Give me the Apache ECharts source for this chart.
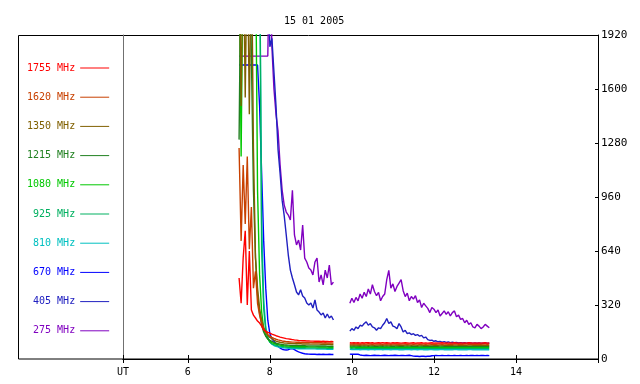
<!DOCTYPE html>
<html>
<head>
<meta charset="utf-8">
<title>15 01 2005</title>
<script src="https://cdn.jsdelivr.net/npm/echarts@6.0.0/dist/echarts.min.js"></script>
<style>
  html, body { margin: 0; padding: 0; background: #fff; }
  #chartmain { width: 640px; height: 384px; }
</style>
</head>
<body>
<div id="chartmain"></div>
<script>
// 时间 (UT, 小时) - 第一段 / 第二段
var times1 = [7.25, 7.3, 7.35, 7.4, 7.45, 7.5, 7.55, 7.6, 7.65, 7.7, 7.75, 7.8, 7.85, 7.9, 7.95,
  8, 8.05, 8.1, 8.15, 8.2, 8.25, 8.3, 8.35, 8.4, 8.45, 8.5, 8.55, 8.6, 8.65, 8.7, 8.75, 8.8, 8.85, 8.9, 8.95,
  9, 9.05, 9.1, 9.15, 9.2, 9.25, 9.3, 9.35, 9.4, 9.45, 9.5, 9.55];
var times2 = [9.95,
  10, 10.05, 10.1, 10.15, 10.2, 10.25, 10.3, 10.35, 10.4, 10.45, 10.5, 10.55, 10.6, 10.65, 10.7, 10.75, 10.8, 10.85, 10.9, 10.95,
  11, 11.05, 11.1, 11.15, 11.2, 11.25, 11.3, 11.35, 11.4, 11.45, 11.5, 11.55, 11.6, 11.65, 11.7, 11.75, 11.8, 11.85, 11.9, 11.95,
  12, 12.05, 12.1, 12.15, 12.2, 12.25, 12.3, 12.35, 12.4, 12.45, 12.5, 12.55, 12.6, 12.65, 12.7, 12.75, 12.8, 12.85, 12.9, 12.95,
  13, 13.05, 13.1, 13.15, 13.2, 13.25, 13.3, 13.35];

// 频率名称和颜色
var freqNames = ['1755 MHz', '1620 MHz', '1350 MHz', '1215 MHz', '1080 MHz', '925 MHz', '810 MHz', '670 MHz', '405 MHz', '275 MHz'];
var freqColors = ['#ff0000', '#c84000', '#806000', '#208020', '#00c800', '#00b060', '#00c0c0', '#0000ff', '#2020c0', '#8000c0'];

// y轴刻度
var yTicks = [0, 320, 640, 960, 1280, 1600, 1920];

// 各频率流量 (第一段)  2500 = 超出上限
var f1755a = [480, 330, 600, 760, 320, 640, 290, 260, 243, 225, 213, 195, 172, 165, 158, 154, 148, 143, 138, 134, 130, 127, 124, 121, 119, 117, 115, 113, 112, 110, 109, 108, 108, 107, 107, 106, 106, 105, 106, 105, 104, 105, 104, 104, 103, 104, 103];
var f1620a = [1250, 700, 1150, 800, 1200, 650, 900, 420, 520, 330, 260, 215, 180, 160, 145, 135, 128, 122, 117, 113, 110, 107, 105, 103, 102, 101, 100, 100, 99, 99, 98, 98, 98, 97, 97, 97, 96, 97, 96, 96, 96, 95, 96, 95, 95, 95, 94];
var f1350a = [2500, 1500, 2500, 1550, 2500, 1450, 2500, 1250, 600, 420, 300, 230, 185, 160, 140, 128, 120, 112, 106, 102, 99, 97, 95, 94, 93, 92, 91, 91, 90, 90, 90, 89, 89, 89, 89, 88, 88, 88, 88, 88, 87, 87, 87, 87, 87, 86, 86];
var f1215a = [1300, 2500, 2500, 2500, 2500, 2500, 1800, 1000, 600, 380, 270, 200, 160, 135, 120, 110, 104, 98, 94, 90, 88, 86, 84, 83, 82, 81, 80, 80, 80, 79, 79, 79, 79, 78, 78, 78, 78, 78, 77, 77, 77, 77, 77, 76, 76, 76, 76];
var f1080a = [2500, 1200, 2500, 2500, 2500, 2500, 2500, 2500, 2500, 1000, 500, 280, 180, 140, 118, 105, 97, 92, 88, 85, 82, 80, 78, 77, 76, 75, 75, 74, 74, 74, 73, 73, 73, 73, 72, 72, 72, 72, 72, 71, 71, 71, 71, 71, 70, 70, 70];
var f925a = [2500, 2500, 2500, 2500, 2500, 2500, 2500, 2500, 2500, 2500, 2500, 650, 300, 170, 125, 100, 90, 85, 81, 78, 76, 74, 72, 71, 70, 69, 68, 68, 68, 67, 67, 67, 67, 66, 66, 66, 66, 66, 65, 65, 65, 65, 65, 64, 64, 64, 64];
var f810a = [2500, 2500, 2500, 2500, 2500, 2500, 2500, 2500, 2500, 2500, 2500, 800, 350, 190, 130, 100, 88, 80, 75, 72, 70, 68, 66, 65, 64, 63, 62, 62, 62, 61, 61, 61, 61, 60, 60, 60, 60, 60, 59, 59, 59, 59, 59, 58, 58, 58, 58];
var f670a = [1742, 1742, 1742, 1742, 1742, 1742, 1742, 1742, 1742, 1742, 1500, 1100, 700, 420, 230, 150, 120, 105, 90, 75, 65, 58, 55, 53, 55, 60, 62, 55, 48, 42, 38, 34, 31, 30, 29, 28, 28, 28, 27, 28, 27, 28, 27, 27, 28, 27, 27];
var f405a = [null, null, null, null, null, null, null, null, null, null, null, null, null, null, 2500, 1850, 1900, 1700, 1500, 1240, 1100, 940, 850, 735, 616, 527, 480, 440, 397, 380, 410, 373, 361, 332, 320, 332, 302, 350, 290, 278, 261, 272, 243, 267, 243, 255, 231];
var f275a = [1795, 1795, 1795, 1795, 1795, 1795, 1795, 1795, 1795, 1795, 1795, 1795, 1795, 1795, 1795, 2500, 1850, 1600, 1450, 1350, 1150, 1000, 912, 871, 853, 824, 1000, 735, 676, 705, 646, 794, 598, 575, 539, 527, 498, 575, 598, 456, 498, 439, 527, 480, 557, 439, 456];

// 各频率流量 (第二段)
var f1755b = [96, 95, 97, 95, 96, 94, 96, 95, 97, 96, 95, 96, 94, 95, 96, 95, 97, 95, 96, 95, 94, 96, 95, 96, 95, 94, 95, 96, 95, 94, 95, 96, 94, 95, 95, 96, 94, 95, 94, 95, 96, 94, 95, 94, 95, 96, 94, 95, 94, 95, 94, 96, 95, 94, 95, 94, 95, 94, 96, 95, 94, 95, 94, 95, 94, 95, 96, 94, 95];
var f1620b = [89, 88, 90, 88, 89, 87, 88, 89, 88, 90, 88, 87, 89, 88, 88, 89, 87, 88, 89, 88, 87, 88, 89, 88, 87, 88, 88, 89, 87, 88, 88, 87, 89, 88, 87, 88, 88, 87, 88, 89, 87, 88, 87, 88, 88, 87, 88, 89, 87, 88, 87, 88, 88, 87, 88, 87, 89, 88, 87, 88, 87, 88, 87, 88, 87, 88, 88, 87, 88];
var f1350b = [83, 82, 84, 82, 83, 81, 82, 83, 82, 81, 82, 83, 81, 82, 82, 83, 81, 82, 83, 82, 81, 82, 82, 83, 81, 82, 81, 82, 83, 82, 81, 82, 82, 81, 82, 83, 81, 82, 81, 82, 82, 81, 82, 81, 82, 83, 81, 82, 81, 82, 81, 82, 82, 81, 82, 81, 82, 81, 82, 82, 81, 82, 81, 82, 81, 82, 81, 82, 81];
var f1215b = [77, 76, 78, 76, 77, 75, 76, 77, 76, 75, 76, 77, 75, 76, 76, 77, 75, 76, 77, 76, 75, 76, 76, 77, 75, 76, 75, 76, 77, 76, 75, 76, 76, 75, 76, 77, 75, 76, 75, 76, 76, 75, 76, 75, 76, 77, 75, 76, 75, 76, 75, 76, 76, 75, 76, 75, 76, 75, 76, 76, 75, 76, 75, 76, 75, 76, 75, 76, 75];
var f1080b = [71, 70, 72, 70, 71, 69, 70, 71, 70, 69, 70, 71, 69, 70, 70, 71, 69, 70, 71, 70, 69, 70, 70, 71, 69, 70, 69, 70, 71, 70, 69, 70, 70, 69, 70, 71, 69, 70, 69, 70, 70, 69, 70, 69, 70, 71, 69, 70, 69, 70, 69, 70, 70, 69, 70, 69, 70, 69, 70, 70, 69, 70, 69, 70, 69, 70, 69, 70, 69];
var f925b = [65, 64, 66, 64, 65, 63, 64, 65, 64, 63, 64, 65, 63, 64, 64, 65, 63, 64, 65, 64, 63, 64, 64, 65, 63, 64, 63, 64, 65, 64, 63, 64, 64, 63, 64, 65, 63, 64, 63, 64, 64, 63, 64, 63, 64, 65, 63, 64, 63, 64, 63, 64, 64, 63, 64, 63, 64, 63, 64, 64, 63, 64, 63, 64, 63, 64, 63, 64, 63];
var f810b = [57, 56, 58, 56, 57, 55, 56, 57, 56, 55, 56, 57, 55, 56, 56, 57, 55, 56, 57, 56, 55, 56, 56, 57, 55, 56, 55, 56, 57, 56, 55, 56, 56, 55, 56, 57, 55, 56, 55, 56, 56, 55, 56, 55, 56, 57, 55, 56, 55, 56, 55, 56, 56, 55, 56, 55, 56, 55, 56, 56, 55, 56, 55, 56, 55, 56, 55, 56, 55];
var f670b = [29, 28, 28, 29, 28, 24, 22, 21, 22, 21, 20, 21, 22, 21, 21, 20, 21, 22, 21, 20, 21, 21, 22, 21, 20, 21, 21, 20, 21, 22, 20, 17, 16, 16, 15, 16, 16, 15, 16, 16, 19, 20, 21, 20, 20, 21, 20, 20, 21, 20, 20, 21, 20, 20, 21, 20, 20, 21, 20, 21, 21, 20, 21, 20, 21, 21, 20, 21, 20];
var f405b = [165, 180, 170, 190, 180, 200, 195, 210, 220, 200, 210, 190, 185, 170, 185, 180, 200, 215, 240, 210, 220, 195, 190, 180, 210, 190, 160, 170, 150, 155, 145, 150, 140, 145, 135, 140, 125, 130, 115, 110, 112, 105, 108, 102, 104, 100, 103, 98, 101, 97, 99, 96, 98, 95, 97, 95, 96, 94, 96, 95, 94, 95, 93, 95, 94, 93, 95, 94, 93];
var f275b = [330, 360, 335, 365, 345, 385, 360, 395, 370, 415, 385, 440, 400, 375, 395, 345, 370, 385, 470, 525, 420, 445, 400, 430, 450, 470, 405, 370, 390, 345, 370, 355, 375, 335, 350, 305, 330, 315, 300, 275, 305, 295, 275, 290, 255, 270, 285, 265, 280, 255, 275, 285, 250, 260, 235, 240, 215, 230, 205, 215, 190, 185, 205, 195, 180, 190, 205, 195, 185];

var seg1 = [f1755a, f1620a, f1350a, f1215a, f1080a, f925a, f810a, f670a, f405a, f275a];
var seg2 = [f1755b, f1620b, f1350b, f1215b, f1080b, f925b, f810b, f670b, f405b, f275b];

var fontName = 'DejaVu Sans Mono';

// 把两段数据拼起来, 中间断开
function buildData(a, b) {
  var out = [];
  for (var i = 0; i < times1.length; i++) {
    out.push([times1[i], a[i] == null ? '-' : a[i]]);
  }
  out.push([9.75, '-']);
  for (var j = 0; j < times2.length; j++) {
    out.push([times2[j], b[j] == null ? '-' : b[j]]);
  }
  return out;
}

var series = [];
// 倒序画, 红色在最上面
for (var k = freqNames.length - 1; k >= 0; k--) {
  series.push({
    name: freqNames[k],
    type: 'line',
    xAxisIndex: 0,
    yAxisIndex: 0,
    showSymbol: false,
    symbol: 'none',
    clip: true,
    animation: false,
    color: freqColors[k],
    lineStyle: { width: 1.4, color: freqColors[k] },
    data: buildData(seg1[k], seg2[k])
  });
}

var legendData = freqNames.map(function (n, i) {
  return { name: n, textStyle: { color: freqColors[i] } };
});

var option = {
  animation: false,
  title: {
    text: '15 01 2005',
    left: 279,
    top: 11,
    textStyle: { fontFamily: fontName, fontSize: 10, fontWeight: 'normal', color: '#000' }
  },
  legend: {
    orient: 'vertical',
    left: 27,
    top: 61,
    padding: 0,
    align: 'right',
    icon: 'rect',
    itemWidth: 29,
    itemHeight: 1,
    itemGap: 15.2,
    selectedMode: false,
    formatter: function (name) {
      return name.length < 8 ? ' ' + name : name;
    },
    textStyle: { fontFamily: fontName, fontSize: 10, lineHeight: 14 },
    data: legendData
  },
  grid: { left: 123, right: 42, top: 35, bottom: 25 },
  xAxis: [{
    type: 'value',
    position: 'bottom',
    min: 4.42,
    max: 16,
    axisLine: { lineStyle: { color: '#000', width: 1 } },
    axisTick: { inside: true, length: 4, lineStyle: { color: '#000' } },
    axisLabel: {
      fontFamily: fontName, fontSize: 10, color: '#000', margin: 8,
      formatter: function (v) {
        if (v < 5) return 'UT';
        if (v > 15) return '';
        return v;
      }
    },
    splitLine: { show: false }
  }, {
    type: 'value',
    position: 'top',
    min: 4.42,
    max: 16,
    axisLine: { lineStyle: { color: '#000', width: 1 } },
    axisTick: { inside: true, length: 4, lineStyle: { color: '#000' } },
    axisLabel: { show: false },
    splitLine: { show: false }
  }],
  yAxis: [{
    type: 'value',
    position: 'right',
    min: yTicks[0],
    max: yTicks[yTicks.length - 1],
    interval: 320,
    axisLine: { show: true, lineStyle: { color: '#000', width: 1 } },
    axisTick: { show: true, inside: true, length: 3, lineStyle: { color: '#000' } },
    axisLabel: {
      fontFamily: fontName, fontSize: 11, color: '#000', margin: 3,
      formatter: function (v) { return String(v); }
    },
    splitLine: { show: false }
  }, {
    // UT 竖线
    type: 'value',
    position: 'left',
    min: yTicks[0],
    max: yTicks[yTicks.length - 1],
    axisLine: { show: true, lineStyle: { color: '#707070', width: 1 } },
    axisTick: { show: false },
    axisLabel: { show: false },
    splitLine: { show: false }
  }],
  graphic: [{
    type: 'rect',
    z: 0,
    shape: { x: 18.5, y: 35.5, width: 580, height: 323.5 },
    style: { fill: 'none', stroke: '#000', lineWidth: 1 }
  }],
  series: series
};

var myChart = echarts.init(document.getElementById('chartmain'));
myChart.setOption(option);
</script>
</body>
</html>
